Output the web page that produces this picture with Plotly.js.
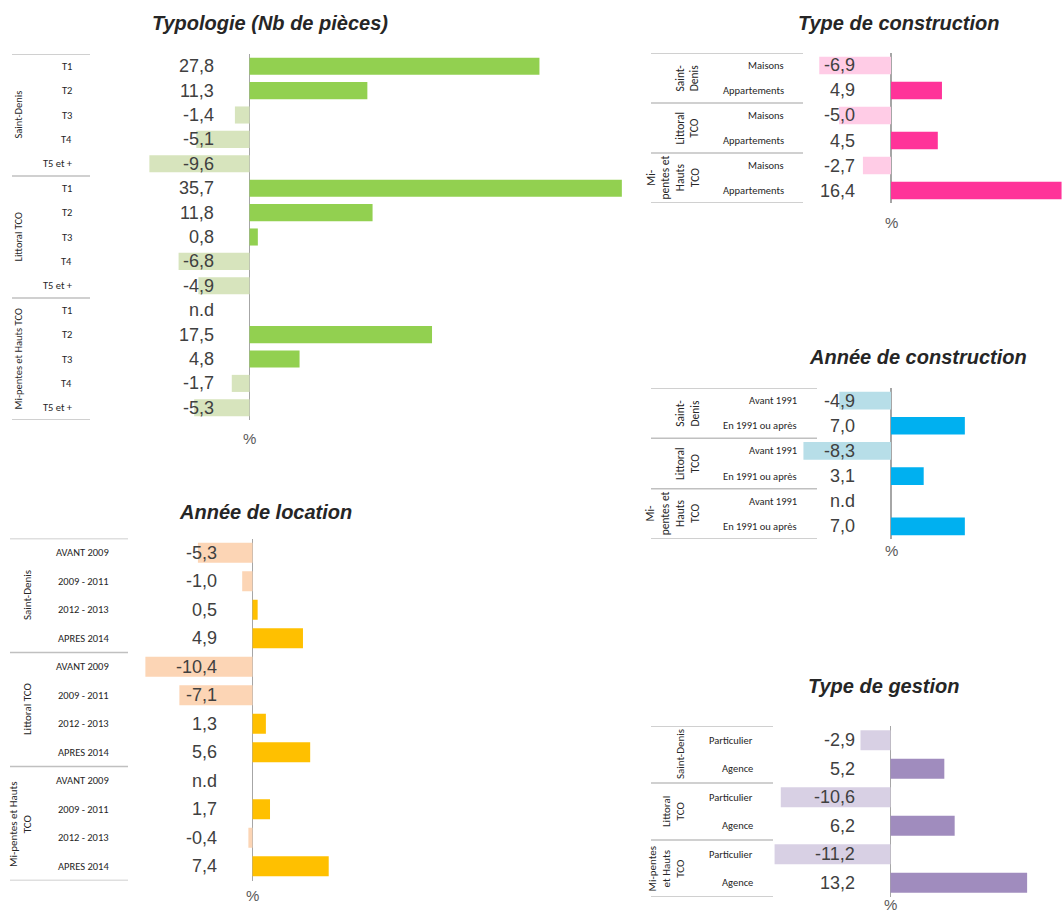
<!DOCTYPE html>
<html><head><meta charset="utf-8">
<script src="https://cdn.plot.ly/plotly-3.0.1.min.js"></script>
<style>html,body{margin:0;padding:0;background:#fff}</style>
</head><body><div id="chart" style="width:1062px;height:912px"></div>
<script>
// ---------- DATA ----------
const typoTitle = "Typologie (Nb de pièces)";
const typoCats = ["T1", "T2", "T3", "T4", "T5 et +"];
const typoGroups = ["Saint-Denis", "Littoral TCO", "Mi-pentes et Hauts TCO"];
const typoSaintDenis = [27.8, 11.3, -1.4, -5.1, -9.6];
const typoLittoral = [35.7, 11.8, 0.8, -6.8, -4.9];
const typoMiPentes = [null, 17.5, 4.8, -1.7, -5.3];

const locTitle = "Année de location";
const locCats = ["AVANT 2009", "2009 - 2011", "2012 - 2013", "APRES 2014"];
const locGroups = ["Saint-Denis", "Littoral TCO", "Mi-pentes et Hauts<br>TCO"];
const locSaintDenis = [-5.3, -1.0, 0.5, 4.9];
const locLittoral = [-10.4, -7.1, 1.3, 5.6];
const locMiPentes = [null, 1.7, -0.4, 7.4];

const constrTitle = "Type de construction";
const constrCats = ["Maisons", "Appartements"];
const constrGroups = ["Saint-<br>Denis", "Littoral<br>TCO", "Mi-<br>pentes et<br>Hauts<br>TCO"];
const constrSaintDenis = [-6.9, 4.9];
const constrLittoral = [-5.0, 4.5];
const constrMiPentes = [-2.7, 16.4];

const anneeTitle = "Année de construction";
const anneeCats = ["Avant 1991", "En 1991 ou après"];
const anneeGroups = ["Saint-<br>Denis", "Littoral<br>TCO", "Mi-<br>pentes et<br>Hauts<br>TCO"];
const anneeSaintDenis = [-4.9, 7.0];
const anneeLittoral = [-8.3, 3.1];
const anneeMiPentes = [null, 7.0];

const gestTitle = "Type de gestion";
const gestCats = ["Particulier", "Agence"];
const gestGroups = ["Saint-Denis", "Littoral<br>TCO", "Mi-pentes<br>et Hauts<br>TCO"];
const gestSaintDenis = [-2.9, 5.2];
const gestLittoral = [-10.6, 6.2];
const gestMiPentes = [-11.2, 13.2];

const unitLabel = "%";
const missingLabel = "n.d";

// ---------- LAYOUT CONFIG ----------
const W = 1062, H = 912;
const px = v => v / W;
const py = v => 1 - v / H;

const panels = [
  {title: typoTitle, cats: typoCats, groups: typoGroups, series: [typoSaintDenis, typoLittoral, typoMiPentes],
   pos: "#92D050", neg: "#D7E4BD",
   xd: [140, 630], zero: 249.5, scale: 10.43, yd: [54, 420],
   catX: 74, valX: 216, grpX: 26, grpSize: 10.5, catSize: 10.5, tbl: [12, 90],
   titleX: 270, titleY: 23, pctY: 438},
  {title: locTitle, cats: locCats, groups: locGroups, series: [locSaintDenis, locLittoral, locMiPentes],
   pos: "#FFC000", neg: "#FCD5B5",
   xd: [140, 340], zero: 252.5, scale: 10.3, yd: [538.5, 880.5],
   catX: 111, valX: 219, grpX: 36, grpSize: 11, catSize: 10.5, tbl: [10, 128],
   titleX: 265, titleY: 512, pctY: 895},
  {title: constrTitle, cats: constrCats, groups: constrGroups, series: [constrSaintDenis, constrLittoral, constrMiPentes],
   pos: "#FF3399", neg: "#FFCCE6",
   xd: [810, 1062], zero: 891, scale: 10.4, yd: [53, 203],
   catX: 786, valX: 857, grpX: 704, grpSize: 11.5, catSize: 10.5, tbl: [651, 803],
   titleX: 899, titleY: 23, pctY: 222},
  {title: anneeTitle, cats: anneeCats, groups: anneeGroups, series: [anneeSaintDenis, anneeLittoral, anneeMiPentes],
   pos: "#00B0F0", neg: "#B7DEE8",
   xd: [795, 1000], zero: 891, scale: 10.55, yd: [388, 539],
   catX: 799, valX: 857, grpX: 704, grpSize: 11.5, catSize: 10.5, tbl: [651, 817],
   titleX: 918, titleY: 357, pctY: 550},
  {title: gestTitle, cats: gestCats, groups: gestGroups, series: [gestSaintDenis, gestLittoral, gestMiPentes],
   pos: "#A08CBE", neg: "#D8D0E4",
   xd: [770, 1050], zero: 890.5, scale: 10.35, yd: [726, 897],
   catX: 755, valX: 857, grpX: 689, grpSize: 11, catSize: 10.5, tbl: [651, 773],
   titleX: 884, titleY: 686, pctY: 904}
];

const fmt = v => v === null ? missingLabel : v.toFixed(1).replace('.', ',');

const data = [];
const annotations = [];
const shapes = [];
const layout = {
  width: W, height: H, margin: {l: 0, r: 0, t: 0, b: 0},
  paper_bgcolor: "#fff", plot_bgcolor: "rgba(0,0,0,0)",
  showlegend: false, bargap: 0.3,
  font: {family: "Liberation Sans, Arial, sans-serif", color: "#404040"}
};

const catFont = "Carlito, Lato, Calibri, sans-serif";

panels.forEach((p, k) => {
  const n = k + 1;
  const xa = "x" + (n === 1 ? "" : n), ya = "y" + (n === 1 ? "" : n);
  const xk = "xaxis" + (n === 1 ? "" : n), yk = "yaxis" + (n === 1 ? "" : n);
  const values = [].concat(...p.series);
  const m = p.cats.length;
  const labels = [].concat(...p.series.map(() => p.cats));
  const idx = values.map((_, i) => i);

  layout[xk] = {
    domain: [px(p.xd[0]), px(p.xd[1])],
    range: [(p.xd[0] - p.zero) / p.scale, (p.xd[1] - p.zero) / p.scale],
    anchor: ya, showgrid: false, showticklabels: false, ticks: "",
    zeroline: true, zerolinecolor: "#a6a6a6", zerolinewidth: 1.5, showline: false, fixedrange: true
  };
  layout[yk] = {
    domain: [py(p.yd[1]), py(p.yd[0])],
    range: [values.length - 0.5, -0.5],
    anchor: xa, showgrid: false, showticklabels: false, ticks: "", zeroline: false, fixedrange: true
  };

  data.push({
    type: "bar", orientation: "h", x: values, y: idx, xaxis: xa, yaxis: ya,
    marker: {color: values.map(v => v !== null && v < 0 ? p.neg : p.pos)},
    hoverinfo: "skip"
  });

  // value labels & category labels
  values.forEach((v, i) => {
    annotations.push({xref: "paper", yref: ya, x: px(p.valX), y: i, xanchor: "right", yanchor: "middle",
      text: fmt(v), showarrow: false, font: {size: 18, color: "#404040", family: "Liberation Sans, Arial, sans-serif"}});
    annotations.push({xref: "paper", yref: ya, x: px(p.catX), y: i, xanchor: "right", yanchor: "middle",
      text: labels[i], showarrow: false, font: {size: p.catSize, color: "#262626", family: catFont}});
  });

  // group labels and table lines
  p.groups.forEach((g, gi) => {
    annotations.push({xref: "paper", yref: ya, x: px(p.grpX), y: gi * m + (m - 1) / 2,
      xanchor: "right", yanchor: "middle", textangle: -90, align: "center",
      text: g, showarrow: false, font: {size: p.grpSize, color: "#262626", family: catFont}});
  });
  for (let gi = 0; gi <= p.groups.length; gi++) {
    shapes.push({type: "line", xref: "paper", yref: ya, x0: px(p.tbl[0]), x1: px(p.tbl[1]),
      y0: gi * m - 0.5, y1: gi * m - 0.5, line: {color: "#c0c0c0", width: 1.5}});
  }

  // title
  annotations.push({xref: "paper", yref: "paper", x: px(p.titleX), y: py(p.titleY), xanchor: "center", yanchor: "middle",
    text: "<b><i>" + p.title + "</i></b>", showarrow: false,
    font: {size: 20, color: "#262626", family: "Liberation Sans, Arial, sans-serif"}});
  // unit
  annotations.push({xref: xa, yref: "paper", x: 0, y: py(p.pctY), xanchor: "center", yanchor: "middle",
    text: unitLabel, showarrow: false, font: {size: 15, color: "#595959", family: "Liberation Sans, Arial, sans-serif"}});
});

layout.annotations = annotations;
layout.shapes = shapes;

Plotly.newPlot("chart", data, layout, {staticPlot: true, displayModeBar: false});
</script>
</body></html>
